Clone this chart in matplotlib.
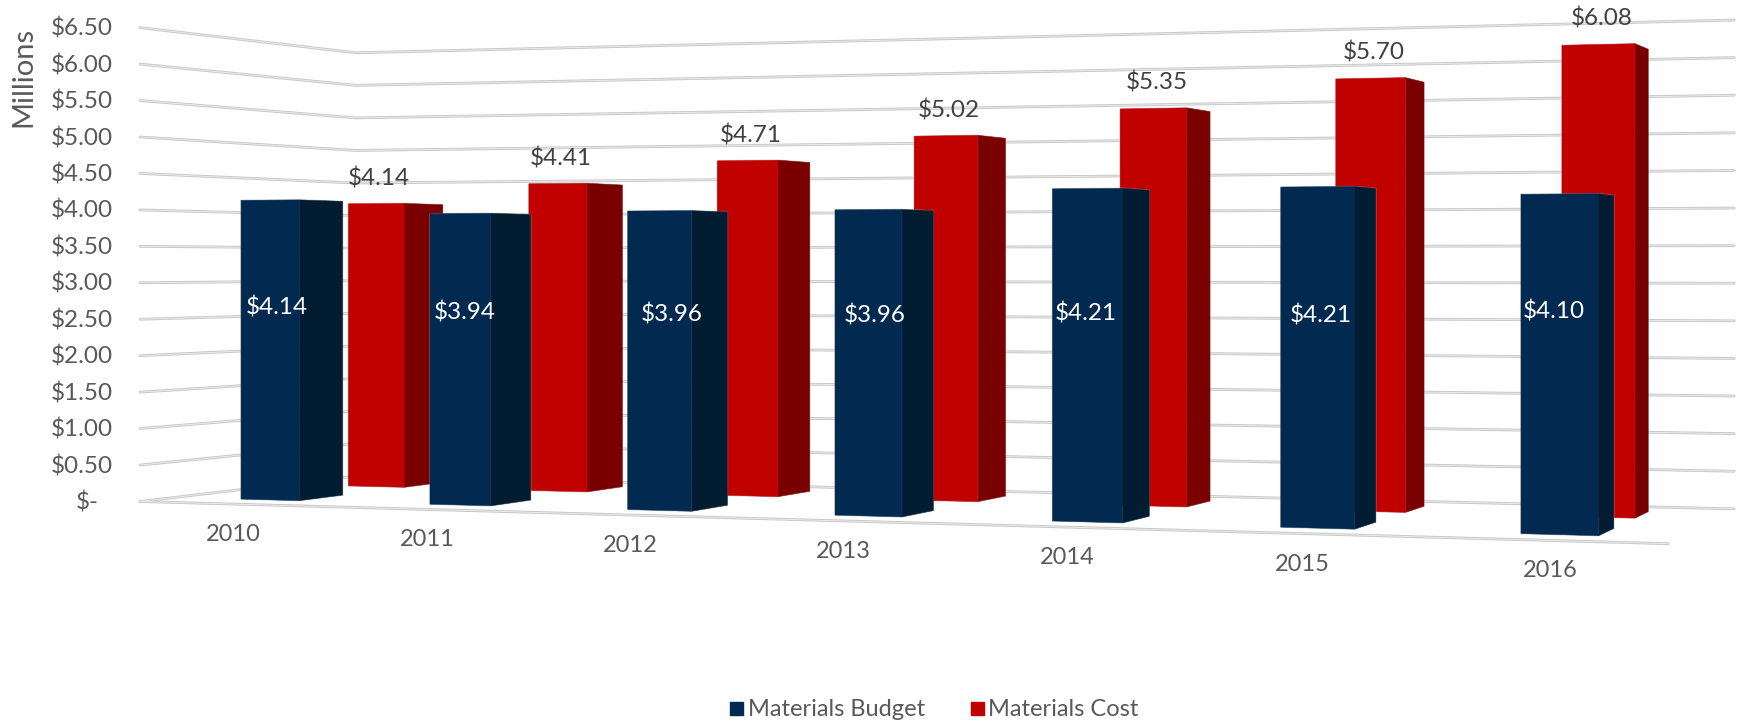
import matplotlib
matplotlib.use("Agg")
import matplotlib.pyplot as plt
import numpy as np
from matplotlib.patches import Rectangle

years = ['2010', '2011', '2012', '2013', '2014', '2015', '2016']
budget = [4.14, 3.94, 3.96, 3.96, 4.21, 4.21, 4.10]
cost = [4.14, 4.41, 4.71, 5.02, 5.35, 5.70, 6.08]
ticks = [0, 0.5, 1, 1.5, 2, 2.5, 3, 3.5, 4, 4.5, 5, 5.5, 6, 6.5]

BLUE, BLUE_SIDE = '#022a50', '#021c31'
RED, RED_SIDE = '#c10000', '#7a0000'
GRID = '#c6c6c6'
TXT = '#595959'

plt.rcParams['font.family'] = ['Lato', 'DejaVu Sans']

# corners of the chart floor on the picture, in pixels
fl = (140, 501.5)   # front left
fr = (1679, 544)    # front right
br = (1739, 509)    # back right
bl = (356, 476)     # back left
K = 72.9            # pixels per million at the front left corner

dx1, dx2, sx = fr[0]-br[0], bl[0]-br[0], fl[0]-fr[0]+br[0]-bl[0]
dy1, dy2, sy = fr[1]-br[1], bl[1]-br[1], fl[1]-fr[1]+br[1]-bl[1]
den = dx1*dy2 - dx2*dy1
g = (sx*dy2 - dx2*sy)/den
h = (dx1*sy - sx*dy1)/den


def proj(p, w, v=0):
    # p along the years, w into the depth, v the money value
    W = 1 + g*p + h*w
    x = (fl[0] + (fr[0]*(1+g)-fl[0])*p + (bl[0]*(1+h)-fl[0])*w)/W
    y = (fl[1] + (fr[1]*(1+g)-fl[1])*p + (bl[1]*(1+h)-fl[1])*w - K*(1-0.008*p)*v)/W
    return x, y


def gridline(pts):
    xs, ys = zip(*pts)
    ax.plot(xs, ys, color=GRID, lw=2.0, solid_capstyle='round', solid_joinstyle='round', zorder=1)
    ax.plot(xs, ys, color='#ececec', lw=0.7, solid_capstyle='round', zorder=1.1)


fig = plt.figure(figsize=(17.4, 7.21), dpi=100)
ax = fig.add_axes([0, 0, 1, 1])
ax.set_xlim(0, 1740)
ax.set_ylim(721, 0)
ax.axis('off')

# walls
for t in ticks:
    pts = [proj(0, 0, t), proj(0, 1, t), proj(0.997, 1, t)]
    gridline(pts)
    ax.text(113 if t > 0 else 87.5, pts[0][1]+1, '$%.2f' % t if t > 0 else '$-',
            ha='right' if t > 0 else 'center', va='center', color=TXT, fontsize=17.5)

# floor front edge
gridline([proj(0, 0), proj(0.994, 0)])


def bar(i, w0, val, front, side, z):
    p0 = 0.0508 + 0.1423*i
    p1 = p0 + 0.0445
    w1 = w0+0.2
    f = [proj(p0, w0), proj(p1, w0), proj(p1, w0, val), proj(p0, w0, val)]
    s = [proj(p1, w0), proj(p1, w1), proj(p1, w1, val), proj(p1, w0, val)]
    # soft grey rim round the whole bar
    rim = [f[0], f[1], s[1], s[2], s[3], f[3]]
    ax.fill(*zip(*rim), fc='none', ec='#a8a8a8', lw=1.0, alpha=0.6, zorder=z)
    ax.fill(*zip(*s), fc=side, ec=side, lw=0.3, zorder=z)
    ax.fill(*zip(*f), fc=front, ec=front, lw=0.3, zorder=z)
    return f


# how far the white labels sit off the bar middle
nudge_x = [6.4, 4, 12.4, 6, -1.6, 3.2, -6.4]
nudge_y = [2, -3, -1, -1, 8, 9, -2]

for i in range(len(years)):
    f = bar(i, 0.65, cost[i], RED, RED_SIDE, 2+i*0.01)
    ax.text((f[0][0]+f[1][0])/2+3, f[2][1]-25, '$%.2f' % cost[i], ha='center', va='center',
            color='#404040', fontsize=17.5, zorder=6)
for i in range(len(years)):
    f = bar(i, 0.15, budget[i], BLUE, BLUE_SIDE, 4+i*0.01)
    yy = proj((i+0.5)/7, 0.15, budget[i]*0.65)[1]
    ax.text((f[0][0]+f[1][0])/2+nudge_x[i], yy+nudge_y[i], '$%.2f' % budget[i], ha='center', va='center',
            color='white', fontsize=17.5, zorder=6)
    px, py = proj((i+0.5)/7, 0)
    ax.text(px, py+30.5, years[i], ha='center', va='center', color=TXT, fontsize=17)

ax.text(23, 77, 'Millions', rotation=90, ha='center', va='center', color=TXT, fontsize=21)

# legend
ax.add_patch(Rectangle((730, 702), 13, 13, color=BLUE))
ax.add_patch(Rectangle((971, 702), 13, 13, color=RED))
ax.text(748, 709, 'Materials Budget', ha='left', va='center', color=TXT, fontsize=17)
ax.text(988, 709, 'Materials Cost', ha='left', va='center', color=TXT, fontsize=17)

fig.savefig('out.png', dpi=100)
